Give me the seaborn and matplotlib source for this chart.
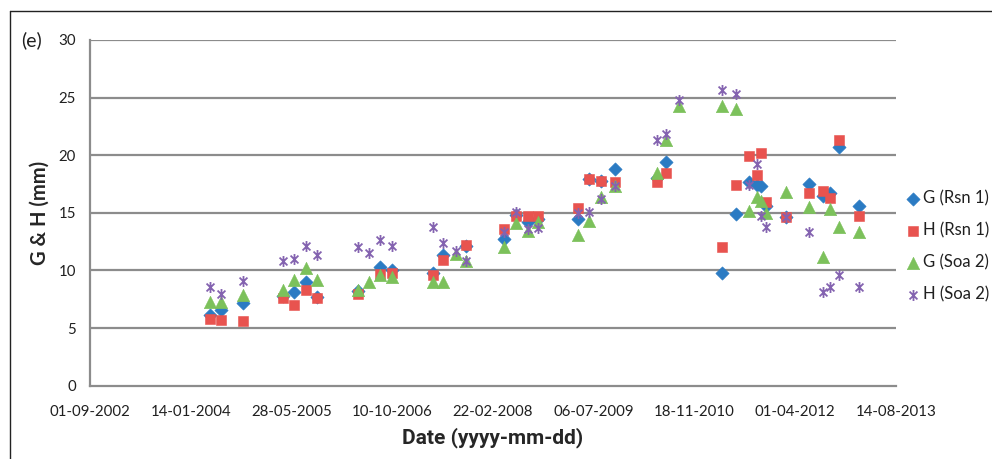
import numpy as np
import pandas as pd
import matplotlib
matplotlib.use("Agg")
import matplotlib.pyplot as plt
from matplotlib.path import Path
from matplotlib.lines import Line2D
import seaborn as sns

# Survey dates and measured values (mm)
dates = [
    "2004-04-19", "2004-06-13", "2004-09-29", "2005-04-16", "2005-06-09",
    "2005-08-08", "2005-10-02", "2006-04-23", "2006-06-17", "2006-08-10",
    "2006-10-10", "2007-04-30", "2007-06-19", "2007-08-22", "2007-10-11",
    "2008-04-17", "2008-06-15", "2008-08-14", "2008-10-02", "2009-04-19",
    "2009-06-12", "2009-08-11", "2009-10-19", "2010-05-16", "2010-06-30",
    "2010-09-02", "2011-04-03", "2011-06-12", "2011-08-15", "2011-09-24",
    "2011-10-14", "2011-11-08", "2012-02-15", "2012-06-08", "2012-08-17",
    "2012-09-20", "2012-11-04", "2013-02-12",
]
g_rsn1 = [6.1, 6.6, 7.2, 7.8, 8.1, 9.0, 7.7, 8.2, np.nan, 10.3,
          10.0, 9.8, 11.3, np.nan, 12.1, 12.7, 14.8, 14.2, 14.5, 14.5,
          17.9, 17.8, 18.8, 18.0, 19.4, np.nan, 9.8, 14.9, 17.7, 17.4,
          17.3, 15.6, 14.6, 17.5, 16.5, 16.7, 20.7, 15.6]
h_rsn1 = [5.8, 5.7, 5.6, 7.6, 7.0, 8.3, 7.6, 8.0, np.nan, 9.7,
          9.8, 9.6, 10.9, np.nan, 12.2, 13.6, 14.7, 14.7, 14.7, 15.4,
          17.9, 17.8, 17.7, 17.7, 18.5, np.nan, 12.0, 17.4, 19.9, 18.3,
          20.2, 15.9, 14.6, 16.7, 16.9, 16.3, 21.3, 14.7]
g_soa2 = [7.3, 7.3, 7.9, 8.3, 9.2, 10.2, 9.2, 8.3, 9.0, 9.6,
          9.4, 9.0, 9.0, 11.4, 10.8, 12.0, 14.1, 13.4, 14.2, 13.1,
          14.3, 16.4, 17.3, 18.5, 21.3, 24.3, 24.3, 24.0, 15.2, 16.4,
          16.0, 15.0, 16.8, 15.5, 11.2, 15.3, 13.8, 13.3]
h_soa2 = [8.6, 8.0, 9.1, 10.8, 11.0, 12.1, 11.3, 12.0, 11.5, 12.6,
          12.1, 13.8, 12.4, 11.7, 10.8, 13.3, 15.1, 13.6, 13.7, 15.0,
          15.1, 16.2, 17.3, 21.3, 21.8, 24.8, 25.7, 25.3, 17.4, 19.2,
          14.7, 13.8, 14.6, 13.3, 8.1, 8.6, 9.6, 8.6]

series_names = ["G (Rsn 1)", "H (Rsn 1)", "G (Soa 2)", "H (Soa 2)"]
series_values = [g_rsn1, h_rsn1, g_soa2, h_soa2]
tick_dates = ["2002-09-01", "2004-01-14", "2005-05-28", "2006-10-10",
              "2008-02-22", "2009-07-06", "2010-11-18", "2012-04-01",
              "2013-08-14"]

# Asterisk marker: vertical bar plus two diagonals
star = Path(
    [(0, -1), (0, 1), (-0.72, -0.72), (0.72, 0.72), (-0.72, 0.72), (0.72, -0.72)],
    [Path.MOVETO, Path.LINETO, Path.MOVETO, Path.LINETO, Path.MOVETO, Path.LINETO],
)
colors = ["#2B7BC3", "#E8534F", "#7CC15B", "#8463B0"]
markers = ["D", "s", "^", star]
sizes = [46, 60, 80, 62]

sns.set_style("white")
plt.rcParams["font.family"] = ["Lato", "DejaVu Sans"]

fig = plt.figure(figsize=(9.92, 4.59), dpi=100)
ax = fig.add_axes([0.0907, 0.1597, 0.8125, 0.7532])

when = pd.to_datetime(dates)
for name, vals, c, m, s in zip(series_names, series_values, colors, markers, sizes):
    df = pd.DataFrame({"date": when, "value": vals}).dropna()
    lw = 1.3 if m is star else 0.4
    sns.scatterplot(data=df, x="date", y="value", ax=ax, marker=m, s=s,
                    color=c, edgecolor=c, linewidth=lw, label=name, zorder=3)

ticks = pd.to_datetime(tick_dates)
ax.set_xlim(ticks[0], ticks[-1])
ax.set_ylim(0, 30)
ax.set_xticks(ticks)
ax.set_xticklabels([t.strftime("%d-%m-%Y") for t in ticks])
ax.set_yticks(np.arange(0, 31, 5))

grid_c = "#8C8C8C"
for y in np.arange(5, 31, 5):
    ax.axhline(y, color=grid_c, lw=1.6, zorder=1)
for side in ["top", "right"]:
    ax.spines[side].set_visible(False)
for side in ["left", "bottom"]:
    ax.spines[side].set_color(grid_c)
    ax.spines[side].set_linewidth(1.6)
ax.tick_params(axis="both", direction="out", length=5, width=1.2,
               color=grid_c, labelsize=10.8, labelcolor="#202020", pad=5)
ax.tick_params(axis="x", pad=9)

ax.set_xlabel("Date (yyyy-mm-dd)", fontsize=15, fontweight="bold",
              family=["Roboto", "DejaVu Sans"], labelpad=6)
ax.set_ylabel("G & H (mm)", fontsize=14.5, fontweight="bold", labelpad=6)

fig.text(0.021, 0.913, "(e)", fontsize=14, va="center", ha="left", color="#202020")

leg = ax.legend(loc="upper left", bbox_to_anchor=(0.905, 0.6), bbox_transform=fig.transFigure,
                frameon=False, fontsize=12, handletextpad=0.1, labelspacing=0.95,
                handlelength=1.0, borderaxespad=0)
for t in leg.get_texts():
    t.set_color("#202020")

# Panel border
fig.add_artist(Line2D([0.0101, 0.0101], [0, 0.976], transform=fig.transFigure,
                      color="#222222", lw=1.0))
fig.add_artist(Line2D([0.0101, 1.0], [0.976, 0.976], transform=fig.transFigure,
                      color="#222222", lw=1.0))

fig.savefig("out.png", dpi=100)
